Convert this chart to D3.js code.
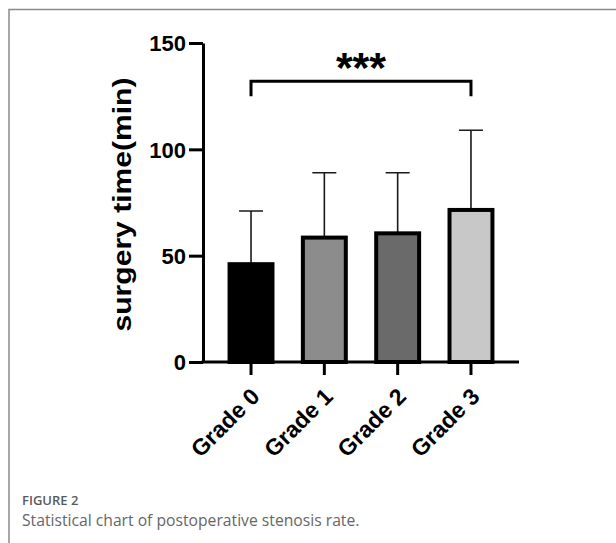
<!DOCTYPE html>
<html>
<head>
	<title>surgery time</title>
	<meta charset='utf-8'>
	<style>
		body { margin: 0; background: #fff; }
		svg { display: block; }
		.frame { stroke: #8a8a8a; stroke-width: 1.5px; fill: none; }
		.axis path, .axis line { stroke: #000; stroke-width: 3px; }
		.axis text { font-family: 'Liberation Sans', Arial, sans-serif; font-weight: bold; fill: #000; }
		.bar { stroke: #000; stroke-width: 4px; }
		.err { stroke: #1a1a1a; stroke-width: 1.6px; fill: none; }
		.sig { stroke: #000; stroke-width: 3px; fill: none; }
		.caption { font-family: 'Open Sans', 'Noto Sans', sans-serif; fill: #5a5a5a; }
	</style>
</head>
<body>

<script src='https://d3js.org/d3.v7.min.js'></script>
<script>
	'use strict';
	// данные
	const grades = ['Grade 0', 'Grade 1', 'Grade 2', 'Grade 3'];
	const means = [46, 58.5, 60.5, 71.5];
	const upper = [71, 89, 89, 109];   // mean + SD
	const yTicks = [0, 50, 100, 150];
	const sigPair = ['Grade 0', 'Grade 3'];
	const sigLevel = 132;
	const sigLabel = '***';

	const fills = ['#000000', '#8c8c8c', '#6a6a6a', '#c8c8c8'];

	const margin = {top: 43, left: 203};
	const width = 316;
	const height = 319;

	const svg = d3.select('body').append('svg')
		.attr('width', 616)
		.attr('height', 543);

	// рамка
	svg.append('path')
		.attr('class', 'frame')
		.attr('d', 'M9,543 V9.5 H616');

	const g = svg.append('g')
		.attr('transform', 'translate(' + margin.left + ',' + margin.top + ')');

	const xScale = d3.scaleBand().domain(grades).range([0, width])
		.paddingInner(0.36).paddingOuter(0.335);
	const yScale = d3.scaleLinear().domain([0, 150]).range([height, 0]);
	const color = d3.scaleOrdinal(grades, fills);

	const data = grades.map(function(d, i) {
		return {grade: d, mean: means[i], upper: upper[i]};
	});

	// error bars (behind bars)
	const cap = 12;
	g.selectAll('.err')
		.data(data)
		.enter()
		.append('path')
		.attr('class', 'err')
		.attr('d', function(d) {
			const cx = xScale(d.grade) + xScale.bandwidth() / 2;
			return 'M' + cx + ',' + yScale(d.mean) + 'V' + yScale(d.upper) +
				'M' + (cx - cap) + ',' + yScale(d.upper) + 'H' + (cx + cap);
		});

	g.selectAll('.bar')
		.data(data)
		.enter()
		.append('rect')
		.attr('class', 'bar')
		.attr('x', function(d) {return xScale(d.grade) + 2;})
		.attr('width', xScale.bandwidth() - 4)
		.attr('y', function(d) {return yScale(d.mean);})
		.attr('height', function(d) {return height - yScale(d.mean);})
		.attr('fill', function(d) {return color(d.grade);});

	// axes
	const yAxis = g.append('g')
		.attr('class', 'axis axis__y')
		.call(d3.axisLeft(yScale).tickValues(yTicks).tickSize(14).tickSizeOuter(0).tickPadding(3));
	yAxis.selectAll('text').style('font-size', '22px').attr('dy', '0.36em');

	const xAxis = g.append('g')
		.attr('class', 'axis axis__x')
		.attr('transform', 'translate(0,' + height + ')')
		.call(d3.axisBottom(xScale).tickSize(13).tickSizeOuter(0));
	xAxis.select('.domain').attr('d', 'M-1.5,0H' + width);
	xAxis.selectAll('text')
		.style('font-size', '23px')
		.attr('text-anchor', 'end')
		.attr('dy', 0)
		.attr('y', 0)
		.attr('transform', 'translate(10,36) rotate(-45)');

	// y title
	g.append('text')
		.attr('class', 'axis-title')
		.attr('transform', 'translate(-72,' + (height / 2 + 2) + ') rotate(-90)')
		.attr('text-anchor', 'middle')
		.attr('textLength', 254)
		.attr('lengthAdjust', 'spacingAndGlyphs')
		.style('font-family', "'Liberation Sans', Arial, sans-serif")
		.style('font-weight', 'bold')
		.style('font-size', '26px')
		.text('surgery time(min)');

	// significance bracket
	const x1 = xScale(sigPair[0]) + xScale.bandwidth() / 2;
	const x2 = xScale(sigPair[1]) + xScale.bandwidth() / 2;
	const yb = yScale(sigLevel);
	g.append('path')
		.attr('class', 'sig')
		.attr('d', 'M' + x1 + ',' + (yb + 15) + 'V' + yb + 'H' + x2 + 'V' + (yb + 15));
	g.append('text')
		.attr('x', (x1 + x2) / 2)
		.attr('y', yb + 1)
		.attr('text-anchor', 'middle')
		.style('font-family', "'Liberation Sans', Arial, sans-serif")
		.style('font-weight', 'bold')
		.style('font-size', '43px')
		.text(sigLabel);

	// подпись
	svg.append('text')
		.attr('class', 'caption')
		.attr('x', 22)
		.attr('y', 505)
		.style('font-size', '13px')
		.style('font-weight', '600')
		.text('FIGURE 2');
	svg.append('text')
		.attr('class', 'caption')
		.attr('x', 22)
		.attr('y', 525.5)
		.style('font-size', '15.7px')
		.style('fill', '#666')
		.text('Statistical chart of postoperative stenosis rate.');
</script>
</body>
</html>
